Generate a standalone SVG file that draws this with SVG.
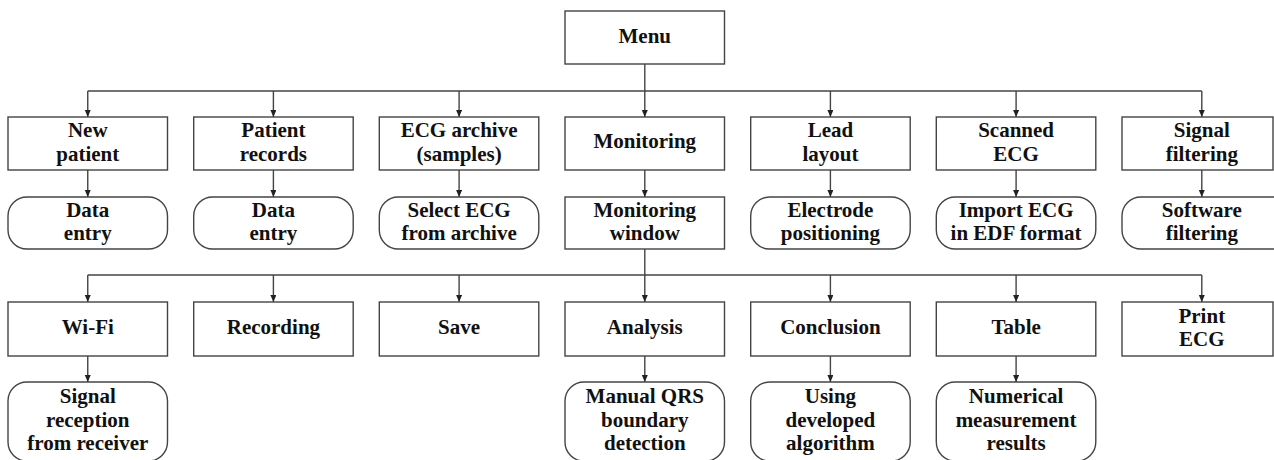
<svg xmlns="http://www.w3.org/2000/svg" width="1274" height="460" viewBox="0 0 1274 460">
<defs>
<marker id="ah" markerWidth="8" markerHeight="8" refX="7" refY="3" orient="auto" markerUnits="userSpaceOnUse">
<path d="M0,0 L7,3 L0,6 z" fill="#222"/>
</marker>
<style>
.b{fill:#fff;stroke:#444;stroke-width:1.4}
text{font-family:'Liberation Serif','DejaVu Serif',serif;font-weight:700;font-size:21px;fill:#111;text-anchor:middle}
.c{fill:none;stroke:#444;stroke-width:1.4}
.a{fill:none;stroke:#444;stroke-width:1.4;marker-end:url(#ah)}
</style>
</defs>
<rect width="1274" height="460" fill="#fff"/>
<g id="connectors">
<path class="c" d="M87.75,91 H1201.8"/>
<path class="a" d="M644.8,64 V117"/>
<path class="a" d="M87.75,91 V117"/>
<path class="a" d="M273.4,91 V117"/>
<path class="a" d="M459.1,91 V117"/>
<path class="a" d="M830.4,91 V117"/>
<path class="a" d="M1016.1,91 V117"/>
<path class="a" d="M1201.8,91 V117"/>
<path class="a" d="M87.75,170 V197"/>
<path class="a" d="M273.4,170 V197"/>
<path class="a" d="M459.1,170 V197"/>
<path class="a" d="M644.8,170 V197"/>
<path class="a" d="M830.4,170 V197"/>
<path class="a" d="M1016.1,170 V197"/>
<path class="a" d="M1201.8,170 V197"/>
<path class="c" d="M87.75,275 H1201.8"/>
<path class="a" d="M644.8,249 V302"/>
<path class="a" d="M87.75,275 V302"/>
<path class="a" d="M273.4,275 V302"/>
<path class="a" d="M459.1,275 V302"/>
<path class="a" d="M830.4,275 V302"/>
<path class="a" d="M1016.1,275 V302"/>
<path class="a" d="M1201.8,275 V302"/>
<path class="a" d="M87.75,356 V382"/>
<path class="a" d="M644.8,356 V382"/>
<path class="a" d="M830.4,356 V382"/>
<path class="a" d="M1016.1,356 V382"/>
</g>
<g id="menu"><rect class="b" x="565" y="11" width="159.5" height="53"/><text x="644.8" y="43">Menu</text></g>

<g id="new-patient"><rect class="b" x="8" y="117" width="159.5" height="53"/><text x="87.75" y="137">New</text><text x="87.75" y="161">patient</text></g>
<g id="patient-records"><rect class="b" x="193.7" y="117" width="159.5" height="53"/><text x="273.4" y="137">Patient</text><text x="273.4" y="161">records</text></g>
<g id="ecg-archive"><rect class="b" x="379.3" y="117" width="159.5" height="53"/><text x="459.1" y="137">ECG archive</text><text x="459.1" y="161">(samples)</text></g>
<g id="monitoring"><rect class="b" x="565" y="117" width="159.5" height="53"/><text x="644.8" y="148">Monitoring</text></g>
<g id="lead-layout"><rect class="b" x="750.7" y="117" width="159.5" height="53"/><text x="830.4" y="137">Lead</text><text x="830.4" y="161">layout</text></g>
<g id="scanned-ecg"><rect class="b" x="936.3" y="117" width="159.5" height="53"/><text x="1016.1" y="137">Scanned</text><text x="1016.1" y="161">ECG</text></g>
<g id="signal-filtering"><rect class="b" x="1122" y="117" width="151" height="53"/><text x="1201.8" y="137">Signal</text><text x="1201.8" y="161">filtering</text></g>

<g id="data-entry-1"><rect class="b" x="8" y="197" width="159.5" height="52" rx="19" ry="19"/><text x="87.75" y="217">Data</text><text x="87.75" y="240">entry</text></g>
<g id="data-entry-2"><rect class="b" x="193.7" y="197" width="159.5" height="52" rx="19" ry="19"/><text x="273.4" y="217">Data</text><text x="273.4" y="240">entry</text></g>
<g id="select-ecg"><rect class="b" x="379.3" y="197" width="159.5" height="52" rx="19" ry="19"/><text x="459.1" y="217">Select ECG</text><text x="459.1" y="240">from archive</text></g>
<g id="monitoring-window"><rect class="b" x="565" y="197" width="159.5" height="52"/><text x="644.8" y="217">Monitoring</text><text x="644.8" y="240">window</text></g>
<g id="electrode-positioning"><rect class="b" x="750.7" y="197" width="159.5" height="52" rx="19" ry="19"/><text x="830.4" y="217">Electrode</text><text x="830.4" y="240">positioning</text></g>
<g id="import-ecg"><rect class="b" x="936.3" y="197" width="159.5" height="52" rx="19" ry="19"/><text x="1016.1" y="217">Import ECG</text><text x="1016.1" y="240">in EDF format</text></g>
<g id="software-filtering"><rect class="b" x="1122" y="197" width="170" height="52" rx="19" ry="19"/><text x="1201.8" y="217">Software</text><text x="1201.8" y="240">filtering</text></g>

<g id="wifi"><rect class="b" x="8" y="302" width="159.5" height="54"/><text x="87.75" y="334">Wi-Fi</text></g>
<g id="recording"><rect class="b" x="193.7" y="302" width="159.5" height="54"/><text x="273.4" y="334">Recording</text></g>
<g id="save"><rect class="b" x="379.3" y="302" width="159.5" height="54"/><text x="459.1" y="334">Save</text></g>
<g id="analysis"><rect class="b" x="565" y="302" width="159.5" height="54"/><text x="644.8" y="334">Analysis</text></g>
<g id="conclusion"><rect class="b" x="750.7" y="302" width="159.5" height="54"/><text x="830.4" y="334">Conclusion</text></g>
<g id="table"><rect class="b" x="936.3" y="302" width="159.5" height="54"/><text x="1016.1" y="334">Table</text></g>
<g id="print-ecg"><rect class="b" x="1122" y="302" width="151" height="54"/><text x="1201.8" y="323">Print</text><text x="1201.8" y="346">ECG</text></g>

<g id="signal-reception"><rect class="b" x="8" y="382" width="159.5" height="79" rx="19" ry="19"/><text x="87.75" y="403">Signal</text><text x="87.75" y="427">reception</text><text x="87.75" y="450">from receiver</text></g>
<g id="manual-qrs"><rect class="b" x="565" y="382" width="159.5" height="79" rx="19" ry="19"/><text x="644.8" y="403">Manual QRS</text><text x="644.8" y="427">boundary</text><text x="644.8" y="450">detection</text></g>
<g id="using-algorithm"><rect class="b" x="750.7" y="382" width="159.5" height="79" rx="19" ry="19"/><text x="830.4" y="403">Using</text><text x="830.4" y="427">developed</text><text x="830.4" y="450">algorithm</text></g>
<g id="numerical-results"><rect class="b" x="936.3" y="382" width="159.5" height="79" rx="19" ry="19"/><text x="1016.1" y="403">Numerical</text><text x="1016.1" y="427">measurement</text><text x="1016.1" y="450">results</text></g>
</svg>
